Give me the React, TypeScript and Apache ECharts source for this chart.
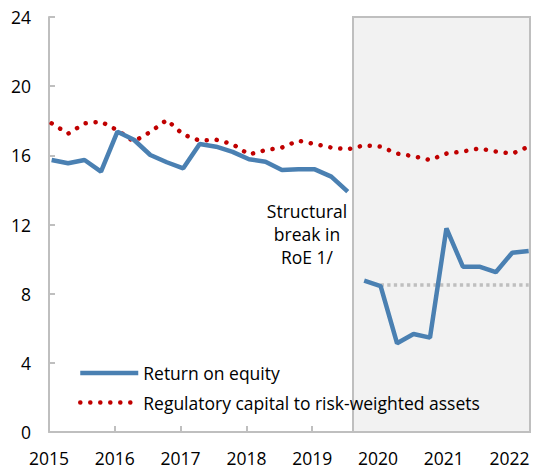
import React, { useEffect, useRef } from "react";
import * as echarts from "echarts";

// Quarterly observations, 2015Q1 .. 2022Q2
const quarters = [
  "2015Q1", "2015Q2", "2015Q3", "2015Q4",
  "2016Q1", "2016Q2", "2016Q3", "2016Q4",
  "2017Q1", "2017Q2", "2017Q3", "2017Q4",
  "2018Q1", "2018Q2", "2018Q3", "2018Q4",
  "2019Q1", "2019Q2", "2019Q3", "2019Q4",
  "2020Q1", "2020Q2", "2020Q3", "2020Q4",
  "2021Q1", "2021Q2", "2021Q3", "2021Q4",
  "2022Q1", "2022Q2",
];

// Return on equity, before and after the structural break
const roeBeforeBreak = [
  15.73, 15.54, 15.73, 15.06, 17.37, 16.9, 16.02, 15.6, 15.25, 16.65,
  16.5, 16.2, 15.77, 15.63, 15.15, 15.19, 15.19, 14.77, 13.9,
];
const roeAfterBreak = [
  8.75, 8.44, 5.13, 5.67, 5.46, 11.78, 9.56, 9.56, 9.24, 10.37, 10.47,
];

// Regulatory capital to risk-weighted assets
const capitalRatio = [
  17.85, 17.25, 17.85, 17.95, 17.45, 16.8, 17.35, 18.05, 17.2, 16.85,
  16.9, 16.65, 16.05, 16.3, 16.45, 16.85, 16.65, 16.45, 16.35, 16.58,
  16.5, 16.1, 15.95, 15.73, 16.1, 16.22, 16.4, 16.22, 16.1, 16.5,
];

// Post-break average RoE (dotted grey reference), from 2020Q1
const avgStart = "2020Q1";
const avgValue = 8.5;

const yTicks = [0, 4, 8, 12, 16, 20, 24];
const yearLabels = [2015, 2016, 2017, 2018, 2019, 2020, 2021, 2022];
const breakStart = 2019.62;
const axisEnd = 2022.31;

const FONT = "'Open Sans', sans-serif";
const FS = 17.5;

function qToX(q: string): number {
  const y = parseInt(q.slice(0, 4), 10);
  const n = parseInt(q.slice(5), 10);
  return y + (n - 1) / 4 + 0.04;
}

export default function App() {
  const ref = useRef<HTMLDivElement>(null);

  useEffect(() => {
    if (!ref.current) return;
    const chart = echarts.init(ref.current, undefined, { renderer: "svg" });

    const nBefore = roeBeforeBreak.length;
    const preData = roeBeforeBreak.map((v, i) => [qToX(quarters[i]), v]);
    const postData = roeAfterBreak.map((v, i) => [qToX(quarters[nBefore + i]), v]);
    const capData = capitalRatio.map((v, i) => [qToX(quarters[i]), v]);
    const avgIdx = quarters.indexOf(avgStart);
    const avgData = quarters.slice(avgIdx).map((q) => [qToX(q), avgValue]);

    const grey = "#BFBFBF";
    const blue = "#4A80B2";
    const red = "#C00000";

    chart.setOption({
      animation: false,
      backgroundColor: "#ffffff",
      textStyle: { fontFamily: FONT },
      grid: { left: 49, right: 3, top: 17, bottom: 37, containLabel: false },
      legend: {
        orient: "vertical",
        left: 78,
        top: 364,
        padding: 0,
        itemWidth: 58,
        itemHeight: 16,
        itemGap: 11.5,
        itemStyle: { opacity: 0 },
        lineStyle: { width: 4.5 },
        data: ["Return on equity", "Regulatory capital to risk-weighted assets"],
        textStyle: { fontSize: FS, color: "#000", fontFamily: FONT },
      },
      xAxis: {
        type: "value",
        min: yearLabels[0],
        max: axisEnd,
        interval: 1,
        splitLine: { show: false },
        axisLine: { lineStyle: { color: grey, width: 2 } },
        axisTick: { inside: true, length: 6, lineStyle: { color: grey, width: 2 } },
        axisLabel: {
          fontSize: FS,
          color: "#000",
          fontFamily: FONT,
          margin: 17,
          formatter: (v: number) =>
            yearLabels.indexOf(Math.round(v)) >= 0 && Math.abs(v - Math.round(v)) < 1e-6
              ? String(Math.round(v))
              : "",
        },
      },
      yAxis: {
        type: "value",
        min: yTicks[0],
        max: yTicks[yTicks.length - 1],
        interval: 4,
        splitLine: { show: false },
        axisLine: { show: true, lineStyle: { color: grey, width: 2 } },
        axisTick: { show: true, inside: true, length: 6, lineStyle: { color: grey, width: 2 } },
        axisLabel: { fontSize: FS, color: "#000", fontFamily: FONT, margin: 18 },
      },
      graphic: [
        {
          type: "text",
          x: 307,
          y: 199,
          style: {
            text: "Structural\nbreak in\nRoE 1/",
            textAlign: "center",
            textVerticalAlign: "top",
            fontSize: FS,
            lineHeight: 23,
            fill: "#000",
            fontFamily: FONT,
          },
          z: 10,
        },
      ],
      series: [
        {
          name: "avg",
          type: "line",
          data: avgData,
          symbol: "none",
          lineStyle: { color: grey, width: 3.3, type: [3.3, 3.3] },
          z: 2,
          markArea: {
            silent: true,
            itemStyle: { color: "#F2F2F2", borderColor: grey, borderWidth: 2 },
            label: { show: false },
            data: [[{ xAxis: breakStart }, { xAxis: axisEnd }]],
          },
        },
        {
          name: "Regulatory capital to risk-weighted assets",
          type: "line",
          data: capData,
          symbol: "none",
          lineStyle: { color: red, width: 4.5, type: [0.1, 9.9], cap: "round" },
          itemStyle: { color: red },
          z: 3,
        },
        {
          name: "Return on equity",
          type: "line",
          data: preData,
          symbol: "none",
          lineStyle: { color: blue, width: 4.5 },
          itemStyle: { color: blue },
          z: 4,
        },
        {
          name: "Return on equity",
          type: "line",
          data: postData,
          symbol: "none",
          lineStyle: { color: blue, width: 4.5 },
          itemStyle: { color: blue },
          z: 4,
        },
      ],
    });

    return () => chart.dispose();
  }, []);

  return (
    <div
      ref={ref}
      style={{ position: "fixed", left: 0, top: 0, width: 533, height: 469, background: "#fff" }}
    />
  );
}
